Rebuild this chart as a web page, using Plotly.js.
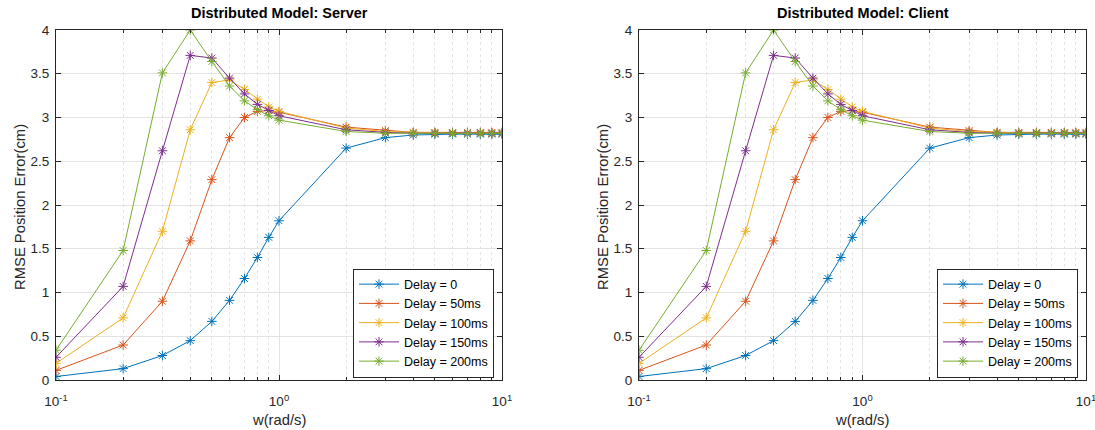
<!DOCTYPE html>
<html>
<head>
<meta charset="utf-8">
<script src="https://cdn.plot.ly/plotly-3.0.1.min.js"></script>
<style>html,body{margin:0;padding:0;background:#fff;}#chart{width:1095px;height:430px;}</style>
</head>
<body>
<div id="chart"></div>
<script>
const w = [0.1,0.2,0.3,0.4,0.5,0.6,0.7,0.8,0.9,1,2,3,4,5,6,7,8,9,10];
const seriesNames = ["Delay = 0","Delay = 50ms","Delay = 100ms","Delay = 150ms","Delay = 200ms"];
const serverDelay0   = [0.04,0.13,0.28,0.45,0.67,0.91,1.16,1.40,1.63,1.82,2.65,2.77,2.80,2.81,2.81,2.81,2.81,2.81,2.81];
const serverDelay50  = [0.11,0.40,0.90,1.59,2.29,2.77,3.00,3.07,3.08,3.06,2.89,2.85,2.83,2.83,2.83,2.83,2.83,2.83,2.83];
const serverDelay100 = [0.19,0.71,1.70,2.86,3.40,3.43,3.32,3.21,3.12,3.07,2.88,2.84,2.83,2.82,2.82,2.82,2.82,2.82,2.82];
const serverDelay150 = [0.26,1.07,2.62,3.71,3.68,3.45,3.27,3.15,3.08,3.02,2.86,2.83,2.82,2.82,2.82,2.82,2.82,2.82,2.82];
const serverDelay200 = [0.34,1.48,3.51,4.00,3.64,3.36,3.19,3.09,3.02,2.97,2.84,2.82,2.82,2.82,2.82,2.82,2.82,2.82,2.82];
const clientDelay0   = [0.04,0.13,0.28,0.45,0.67,0.91,1.16,1.40,1.63,1.82,2.65,2.77,2.80,2.81,2.81,2.81,2.81,2.81,2.81];
const clientDelay50  = [0.11,0.40,0.90,1.59,2.29,2.77,3.00,3.07,3.08,3.06,2.89,2.85,2.83,2.83,2.83,2.83,2.83,2.83,2.83];
const clientDelay100 = [0.19,0.71,1.70,2.86,3.40,3.43,3.32,3.21,3.12,3.07,2.88,2.84,2.83,2.82,2.82,2.82,2.82,2.82,2.82];
const clientDelay150 = [0.26,1.07,2.62,3.71,3.68,3.45,3.27,3.15,3.08,3.02,2.86,2.83,2.82,2.82,2.82,2.82,2.82,2.82,2.82];
const clientDelay200 = [0.34,1.48,3.51,4.00,3.64,3.36,3.19,3.09,3.02,2.97,2.84,2.82,2.82,2.82,2.82,2.82,2.82,2.82,2.82];
const xTickVals = [0.1,1,10];
const xTickText = ["10<sup>-1</sup>","10<sup>0</sup>","10<sup>1</sup>"];
const xMinorVals = [0.2,0.3,0.4,0.5,0.6,0.7,0.8,0.9,2,3,4,5,6,7,8,9];
const yTickVals = [0,0.5,1,1.5,2,2.5,3,3.5,4];
const yTickText = ["0","0.5","1","1.5","2","2.5","3","3.5","4"];

const colors = ["#0072BD","#D95319","#EDB120","#7E2F8E","#77AC30"];
const serverSets = [serverDelay0,serverDelay50,serverDelay100,serverDelay150,serverDelay200];
const clientSets = [clientDelay0,clientDelay50,clientDelay100,clientDelay150,clientDelay200];
const FONT = "Liberation Sans, Arial, sans-serif";

const traces = [];
function addTraces(sets, xa, ya, leg) {
  sets.forEach((ys, i) => {
    traces.push({
      x: w, y: ys, xaxis: xa, yaxis: ya, legend: leg,
      type: "scatter", mode: "lines+markers", name: seriesNames[i],
      line: {color: colors[i], width: 1},
      marker: {symbol: "asterisk-open", size: 8, color: colors[i], line: {color: colors[i], width: 1}}
    });
  });
}
addTraces(serverSets, "x", "y", "legend");
addTraces(clientSets, "x2", "y2", "legend2");

const axisCommon = {
  showline: true, linecolor: "#262626", linewidth: 1, mirror: "ticks",
  ticks: "inside", ticklen: 5, tickcolor: "#262626",
  tickfont: {family: FONT, size: 13.5, color: "#262626"},
  ticklabeloverflow: "allow",
  showgrid: true, gridcolor: "#e3e3e3", gridwidth: 1, zeroline: false, fixedrange: true
};
function xAxis(domain, anchor) {
  return Object.assign({}, axisCommon, {
    type: "log", range: [-1, 1], domain: domain, anchor: anchor,
    tickmode: "array", tickvals: xTickVals, ticktext: xTickText, ticklabelstandoff: 9,
    minor: {tickmode: "array", tickvals: xMinorVals, ticks: "inside", ticklen: 3, tickcolor: "#262626",
            showgrid: true, gridcolor: "#e4e4e4", griddash: "dot", gridwidth: 1}
  });
}
function yAxis(domain, anchor) {
  return Object.assign({}, axisCommon, {
    range: [0, 4], domain: domain, anchor: anchor,
    tickmode: "array", tickvals: yTickVals, ticktext: yTickText, ticklabelstandoff: 3
  });
}
const yDom = [1 - 380/430, 1 - 30/430];
const legendCommon = {
  bgcolor: "#ffffff", bordercolor: "#262626", borderwidth: 1,
  font: {family: FONT, size: 12.5, color: "#000"},
  xanchor: "left", yanchor: "middle", itemwidth: 40, tracegroupgap: 0
};
const layout = {
  width: 1095, height: 430,
  margin: {l: 0, r: 0, t: 0, b: 0},
  paper_bgcolor: "#ffffff", plot_bgcolor: "#ffffff",
  showlegend: true,
  xaxis: xAxis([56/1095, 502/1095], "y"),
  yaxis: yAxis(yDom, "x"),
  xaxis2: xAxis([639/1095, 1086/1095], "y2"),
  yaxis2: yAxis(yDom, "x2"),
  legend: Object.assign({}, legendCommon, {x: 353/1095, y: 1 - 323/430}),
  legend2: Object.assign({}, legendCommon, {x: 937/1095, y: 1 - 323/430}),
  annotations: [
    {text: "<b>Distributed Model: Server</b>", xref: "paper", yref: "paper", x: 279/1095, y: 1 - 13/430,
     showarrow: false, xanchor: "center", yanchor: "middle", font: {family: FONT, size: 14.5, color: "#000"}},
    {text: "<b>Distributed Model: Client</b>", xref: "paper", yref: "paper", x: 862.5/1095, y: 1 - 13/430,
     showarrow: false, xanchor: "center", yanchor: "middle", font: {family: FONT, size: 14.5, color: "#000"}},
    {text: "w(rad/s)", xref: "paper", yref: "paper", x: 279/1095, y: 1 - 420/430,
     showarrow: false, xanchor: "center", yanchor: "middle", font: {family: FONT, size: 14.8, color: "#262626"}},
    {text: "w(rad/s)", xref: "paper", yref: "paper", x: 862.5/1095, y: 1 - 420/430,
     showarrow: false, xanchor: "center", yanchor: "middle", font: {family: FONT, size: 14.8, color: "#262626"}},
    {text: "RMSE Position Error(cm)", xref: "paper", yref: "paper", x: 20/1095, y: 1 - 207/430, textangle: -90,
     showarrow: false, xanchor: "center", yanchor: "middle", font: {family: FONT, size: 14.8, color: "#262626"}},
    {text: "RMSE Position Error(cm)", xref: "paper", yref: "paper", x: 603/1095, y: 1 - 207/430, textangle: -90,
     showarrow: false, xanchor: "center", yanchor: "middle", font: {family: FONT, size: 14.8, color: "#262626"}}
  ]
};
Plotly.newPlot("chart", traces, layout, {displayModeBar: false, staticPlot: true});
</script>
</body>
</html>
